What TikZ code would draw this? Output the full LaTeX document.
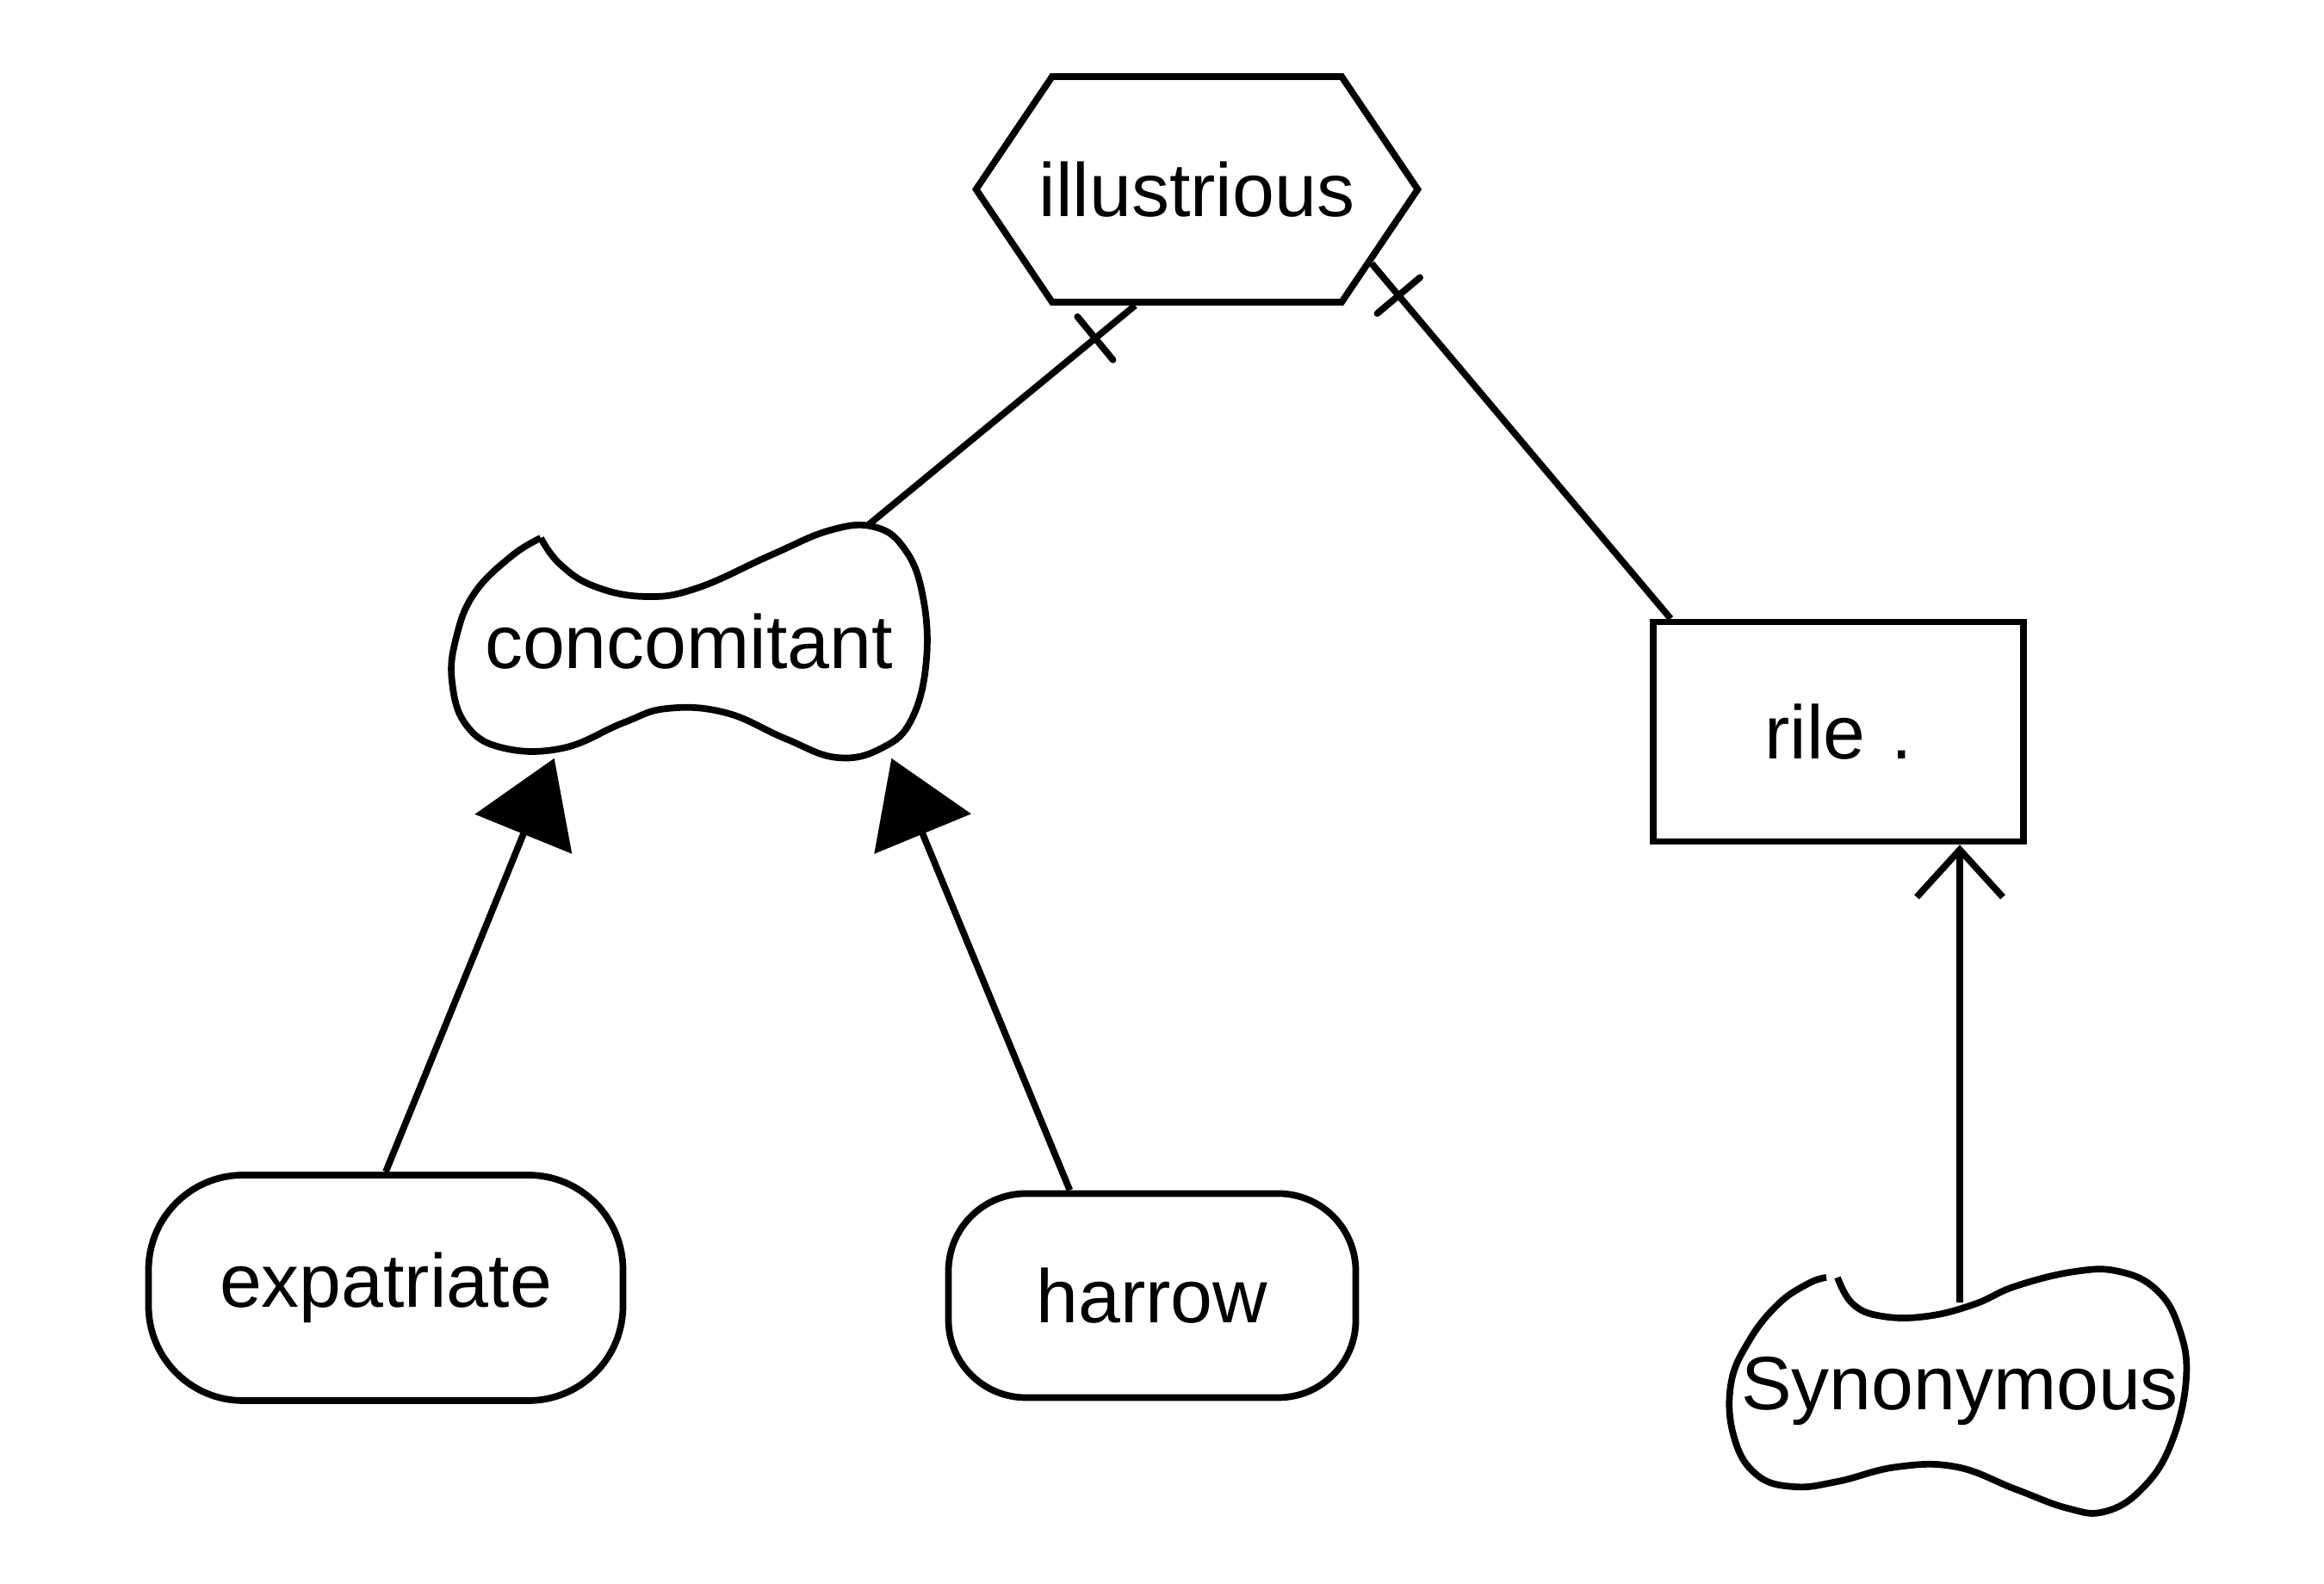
\documentclass[tikz,border=0pt]{standalone}
\usepackage{fontspec}
\setmainfont{Liberation Sans}
\usetikzlibrary{arrows.meta,shapes.symbols}

\begin{document}
\begin{tikzpicture}[line width=2.2pt,
  word/.style={font=\fontsize{25}{30}\selectfont},
  isa/.style={-{Triangle[length=9.5mm,width=12mm]}},
  hasa/.style={-{Straight Barb[length=5.5mm,width=10mm]}},
  onetick/.style={sloped,draw,inner sep=0pt,minimum width=0pt,
    minimum height=6.5mm,line join=round}]
\useasboundingbox (0,0) rectangle (26.99,18.40);

\node[word,draw,signal,signal to=west and east,signal pointer angle=112,
  inner xsep=-1.5mm,minimum height=2.62cm] (ill) at (13.90,16.20) {illustrious};
\node[word,minimum width=5.54cm,minimum height=2.64cm] (con) at (8.00,10.95) {concomitant};
\node[word,draw,minimum width=4.3cm,minimum height=2.55cm] (rile) at (21.35,9.90) {rile\hspace{3mm}.};
\node[word,draw,rounded corners=1.1cm,minimum width=5.51cm,
  minimum height=2.62cm] (exp) at (4.48,3.44) {expatriate};
\node[word,draw,rounded corners=0.9cm,minimum width=4.73cm,
  minimum height=2.37cm] (har) at (13.38,3.35) {harrow};
\node[word,minimum width=5.38cm,minimum height=1.98cm] (syn) at (22.76,2.24) {Synonymous};

% wavy outlines
\draw[shift={(con.center)}] plot[smooth,tension=0.7] coordinates {
  (-1.72,1.20) (-1.50,0.90) (-1.10,0.64) (-0.50,0.52) (0.10,0.62)
  (0.95,1.00) (1.64,1.29) (2.15,1.33) (2.50,1.08) (2.71,0.56)
  (2.76,-0.20) (2.59,-0.90) (2.24,-1.24) (1.72,-1.35) (1.12,-1.13)
  (0.43,-0.83) (-0.25,-0.78) (-0.77,-0.95) (-1.46,-1.24) (-2.15,-1.24)
  (-2.58,-0.98) (-2.75,-0.47) (-2.70,0.05) (-2.49,0.56) (-2.06,0.99)
  (-1.72,1.20)};
\draw[shift={(syn.center)}] plot[smooth,tension=0.7] coordinates {
  (-1.42,1.32) (-1.24,1.01) (-0.90,0.87) (-0.38,0.87) (0.17,1.01)
  (0.65,1.22) (1.34,1.39) (1.85,1.39) (2.28,1.18) (2.54,0.75)
  (2.63,0.15) (2.45,-0.62) (2.11,-1.14) (1.68,-1.40) (1.25,-1.36)
  (0.65,-1.14) (-0.04,-0.88) (-0.73,-0.88) (-1.42,-1.05) (-1.93,-1.11)
  (-2.36,-0.97) (-2.62,-0.54) (-2.66,0.07) (-2.45,0.58) (-2.11,1.01)
  (-1.76,1.25) (-1.55,1.32)};

\draw (con.33) -- node[onetick,pos=0.85]{} (ill.-118);
\draw (rile.146) -- node[onetick,pos=0.91]{} (ill.-23);
\draw[isa] (exp.north) -- (con.-139);
\draw[isa] (har.128) -- (con.-30);
\draw[hasa] (syn.north) -- (syn.north |- rile.south);
\end{tikzpicture}
\end{document}
